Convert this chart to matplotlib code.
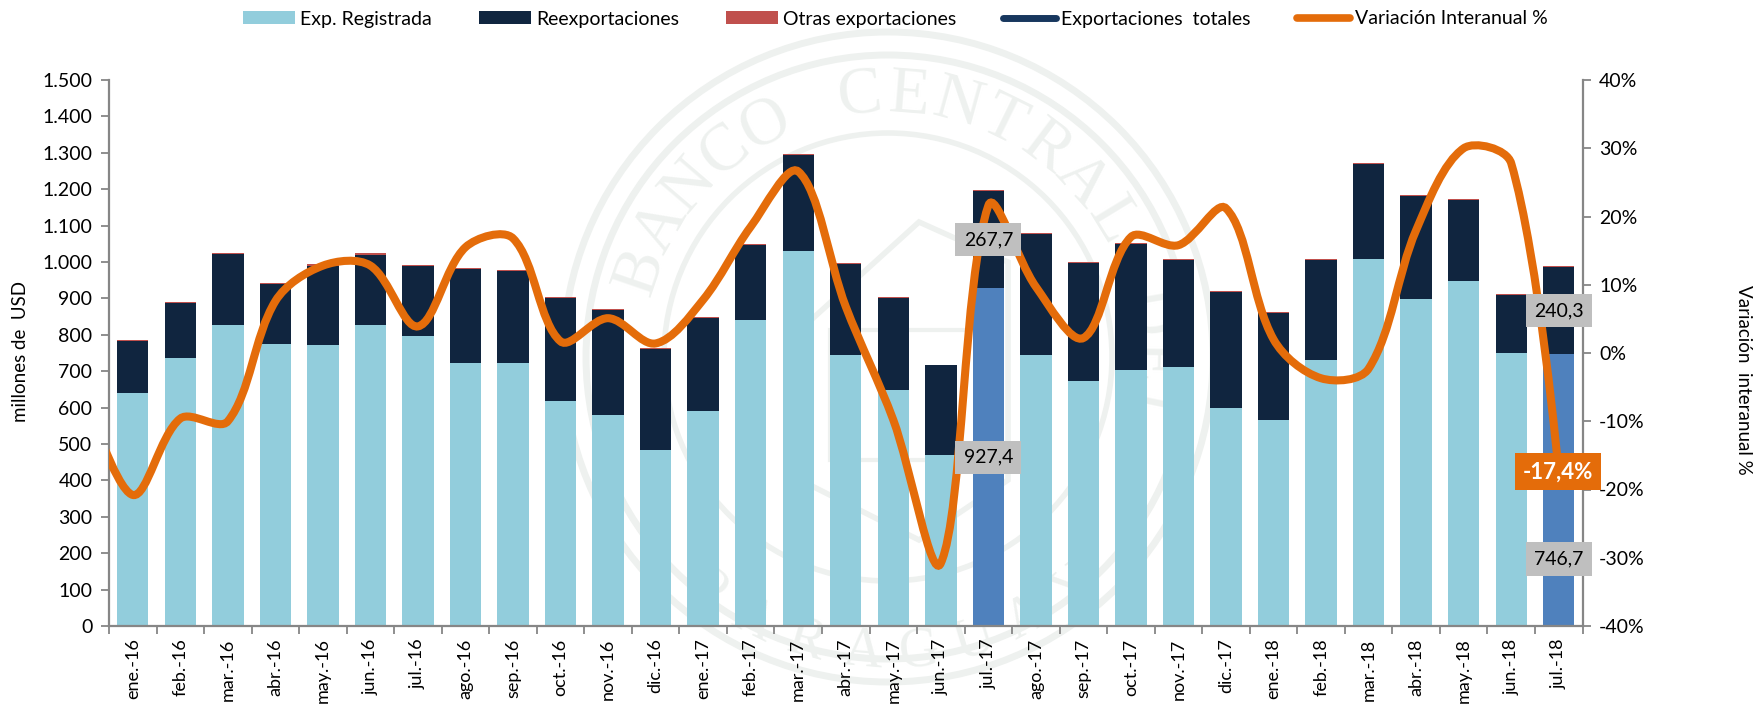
# Exportaciones mensuales (millones de USD) y variacion interanual

import numpy as np
import matplotlib.pyplot as plt
from matplotlib.path import Path
from matplotlib.patches import PathPatch, Patch, Circle, Polygon
from matplotlib.lines import Line2D

plt.rcParams['font.family'] = ['Lato', 'DejaVu Sans']

# Data
meses = ["ene.-16", "feb.-16", "mar.-16", "abr.-16", "may.-16", "jun.-16", "jul.-16", "ago.-16",
         "sep.-16", "oct.-16", "nov.-16", "dic.-16", "ene.-17", "feb.-17", "mar.-17", "abr.-17",
         "may.-17", "jun.-17", "jul.-17", "ago.-17", "sep.-17", "oct.-17", "nov.-17", "dic.-17",
         "ene.-18", "feb.-18", "mar.-18", "abr.-18", "may.-18", "jun.-18", "jul.-18"]
registrada = [640, 735, 828, 776, 772, 828, 797, 722, 722, 617, 579, 484, 591, 840, 1031, 745,
              647, 470, 927.4, 745, 672, 703, 712, 600, 565, 731, 1007, 898, 948, 750, 746.7]
reexport = [143, 152, 194, 163, 218, 192, 192, 259, 254, 284, 288, 277, 255, 207, 263, 250,
            254, 246, 267.7, 332, 325, 347, 293, 318, 294, 274, 261, 283, 223, 158, 240.3]
otras = [4, 3, 4, 3, 4, 4, 4, 3, 3, 3, 3, 3, 3, 3, 3, 3,
         3, 2, 3, 3, 3, 3, 3, 3, 3, 3, 3, 3, 3, 3, 3]
variacion = [-20.8, -9.6, -10.0, 7.6, 12.8, 12.8, 3.9, 15.5, 16.8, 1.7, 5.1, 1.4, 7.8, 18.5, 26.6, 6.8,
             -9.8, -30.8, 21.6, 9.7, 2.2, 17.0, 15.8, 21.2, 2.0, -3.7, -2.3, 18.0, 30.0, 27.8, -17.4]
variacion_previa = -6.0  # dic.-15, only the start of the curve shows

y_ticks = list(range(0, 1501, 100))
y_labels = ["0", "100", "200", "300", "400", "500", "600", "700", "800", "900",
            "1.000", "1.100", "1.200", "1.300", "1.400", "1.500"]
y2_ticks = list(range(-40, 41, 10))

C_REG = "#92CDDC"
C_REEX = "#10253F"
C_OTRAS = "#C0504D"
C_TOTAL = "#17375E"
C_DEST = "#4F81BD"
C_LINEA = "#E46C0A"
C_EJE = "#868686"
C_SELLO = "#EEF1EF"
C_CAJA = "#BFBFBF"

W, H = 1760, 707
fig = plt.figure(figsize=(W / 100, H / 100), dpi=100)

# Watermark, in pixel coordinates of the figure
sello = fig.add_axes([0, 0, 1, 1], zorder=0)
sello.set_xlim(0, W)
sello.set_ylim(H, 0)
sello.axis("off")
cx, cy = 888, 357
for r, lw in [(325, 5), (302, 5), (224, 4)]:
    sello.add_patch(Circle((cx, cy), r, fill=False, ec=C_SELLO, lw=lw))
sello.add_patch(Polygon([(919, 222), (1008, 262), (1008, 480), (919, 540), (800, 480), (800, 330)],
                        fill=False, ec=C_SELLO, lw=4))
sello.add_patch(Polygon([(830, 330), (985, 330), (985, 460), (830, 460)],
                        fill=False, ec=C_SELLO, lw=3))
for i, letra in enumerate("BANCO CENTRAL DEL"):
    a = np.radians(161 - 10.8 * i)
    sello.text(cx + 262 * np.cos(a), cy - 262 * np.sin(a), letra, rotation=np.degrees(a) - 90,
               ha="center", va="center", fontsize=48, color=C_SELLO, family="Liberation Serif")
for i, letra in enumerate("PARAGUAY"):
    a = np.radians(232 + 11 * i)
    sello.text(cx + 296 * np.cos(a), cy - 296 * np.sin(a), letra, rotation=np.degrees(a) + 90,
               ha="center", va="center", fontsize=40, color=C_SELLO, family="Liberation Serif")

ax = fig.add_axes([109 / W, 1 - 626 / H, (1582.5 - 109) / W, (626 - 80) / H], zorder=1)
ax.patch.set_alpha(0)
x = np.arange(len(meses))
reg = np.array(registrada)
ree = np.array(reexport)
ancho = 0.66

ax.bar(x, reg, ancho, color=C_REG)
ax.bar(x, ree, ancho, bottom=reg, color=C_REEX)
ax.bar(x, otras, ancho, bottom=reg + ree, color=C_OTRAS)

# jul.-17 and jul.-18 are highlighted
for i in [18, 30]:
    ax.bar(x[i], reg[i], ancho, color=C_DEST)

ax.set_xlim(-0.5, len(meses) - 0.5)
ax.set_ylim(0, 1500)
ax.set_yticks(y_ticks)
ax.set_yticklabels(y_labels, fontsize=14, color="black")
ax.set_xticks(np.arange(len(meses) + 1) - 0.5)
ax.set_xticklabels([])
ax.set_xticks(x, minor=True)
ax.set_xticklabels(meses, minor=True, rotation=90, fontsize=13)
ax.tick_params(axis="x", which="major", length=6, width=1.3, color=C_EJE)
ax.tick_params(axis="x", which="minor", length=0, pad=9)
ax.tick_params(axis="y", length=6, width=1.3, color=C_EJE, pad=6)
for s in ["top", "right"]:
    ax.spines[s].set_visible(False)
for s in ["left", "bottom"]:
    ax.spines[s].set_color(C_EJE)
    ax.spines[s].set_linewidth(1.6)
fig.text(20 / W, 1 - 352 / H, "millones de  USD", rotation=90,
         ha="center", va="center", fontsize=13.5)

ax2 = ax.twinx()
ax2.set_zorder(2)
ax2.patch.set_alpha(0)
ax2.set_ylim(-40, 40)
ax2.set_yticks(y2_ticks)
ax2.set_yticklabels([f"{v}%" for v in y2_ticks], fontsize=14)
ax2.tick_params(axis="y", length=6, width=1.3, color=C_EJE, pad=6)
for s in ["top", "left", "bottom"]:
    ax2.spines[s].set_visible(False)
ax2.spines["right"].set_color(C_EJE)
ax2.spines["right"].set_linewidth(1.6)
fig.text(1743 / W, 1 - 380 / H, "Variación  interanual %", rotation=270,
         ha="center", va="center", fontsize=13.5)

# Smoothed line like the spreadsheet's: handles at each point are split by the
# on-screen length of the two neighbouring segments
px = np.arange(-1, len(meses))
py = np.array([variacion_previa] + variacion)
pts = np.column_stack([px, py])
escala = np.array([47.5, 6.825])
salida = np.zeros_like(pts)
entrada = np.zeros_like(pts)
for i in range(1, len(pts) - 1):
    d1 = np.linalg.norm((pts[i] - pts[i - 1]) * escala)
    d2 = np.linalg.norm((pts[i + 1] - pts[i]) * escala)
    v = pts[i + 1] - pts[i - 1]
    entrada[i] = pts[i] - v * d1 / (d1 + d2) / 3
    salida[i] = pts[i] + v * d2 / (d1 + d2) / 3
salida[0] = pts[0]
entrada[-1] = pts[-1]
verts = [pts[0]]
codes = [Path.MOVETO]
for i in range(len(pts) - 1):
    verts += [salida[i], entrada[i + 1], pts[i + 1]]
    codes += [Path.CURVE4] * 3
ax2.add_patch(PathPatch(Path(verts, codes), fill=False, ec=C_LINEA, lw=5.8, capstyle="butt"))

# Value boxes
caja = dict(boxstyle="square,pad=0.42", fc=C_CAJA, ec="none")
for i, yv, txt in [(18, reg[18] + ree[18] / 2, "267,7"), (18, reg[18] / 2, "927,4"),
                   (30, reg[30] + ree[30] / 2, "240,3"), (30, 184, "746,7")]:
    ax2.text(x[i], yv * 80 / 1500 - 40, txt, ha="center", va="center", fontsize=14,
             color="black", bbox=caja, zorder=6, clip_on=False)
ax2.text(x[30] - 0.02, variacion[30], "-17,4%", ha="center", va="center", fontsize=16,
         fontweight="bold", color="white", zorder=7, clip_on=False,
         bbox=dict(boxstyle="square,pad=0.36", fc=C_LINEA, ec="none"))

# Legend
handles = [Patch(fc=C_REG), Patch(fc=C_REEX), Patch(fc=C_OTRAS),
           Line2D([], [], color=C_TOTAL, lw=5, solid_capstyle="round"),
           Line2D([], [], color=C_LINEA, lw=5.5, solid_capstyle="round")]
nombres = ["Exp. Registrada", "Reexportaciones", "Otras exportaciones",
           "Exportaciones  totales", "Variación Interanual %"]
fig.legend(handles, nombres, ncol=5, loc="center", bbox_to_anchor=(895 / W, 1 - 19 / H),
           frameon=False, fontsize=14, handlelength=2.7, handleheight=0.62,
           handletextpad=0.26, columnspacing=2.4, borderpad=0, borderaxespad=0)

fig.savefig("out.png", dpi=100)
